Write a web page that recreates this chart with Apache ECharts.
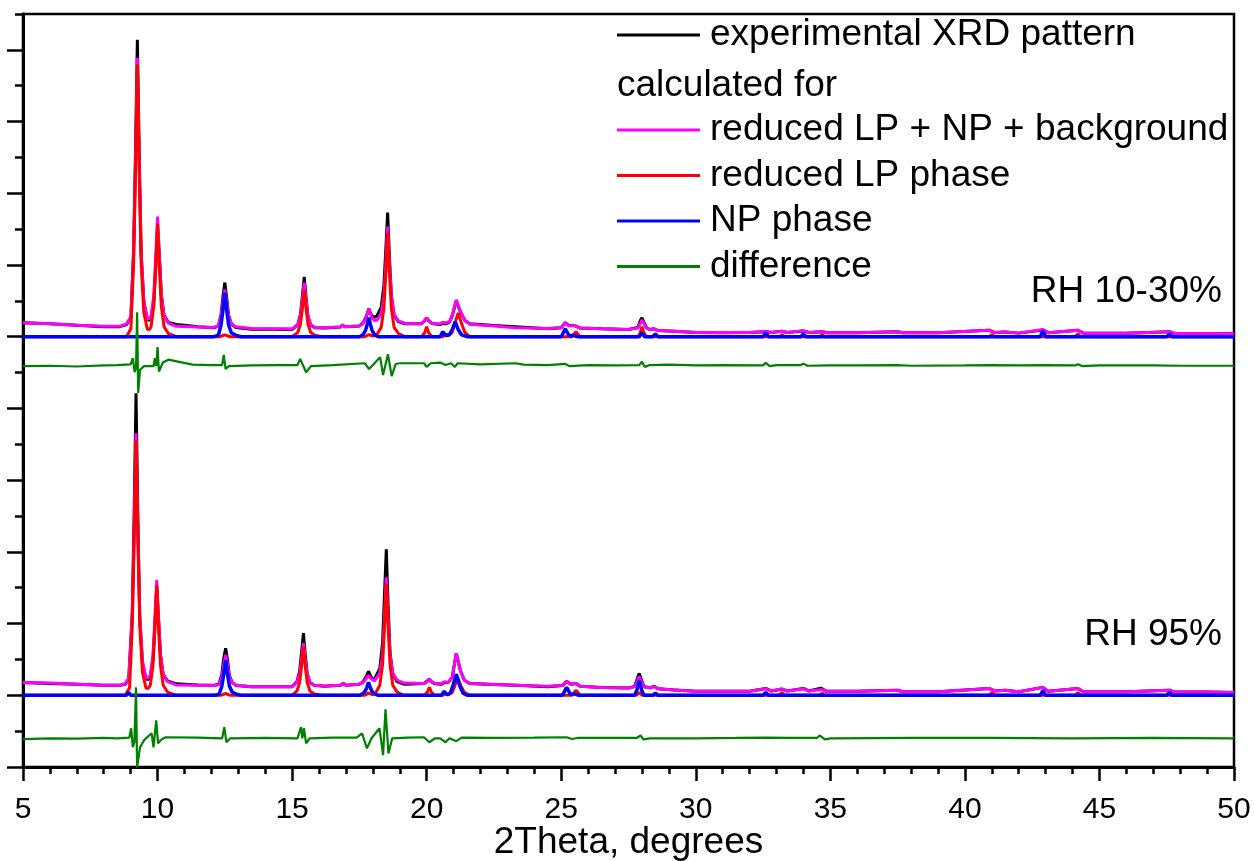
<!DOCTYPE html>
<html>
<head>
<meta charset="utf-8">
<script src="https://cdn.jsdelivr.net/npm/echarts@6/dist/echarts.min.js"></script>
<style>
  html, body { margin: 0; padding: 0; background: #fff; }
  #chart { width: 1254px; height: 861px; }
</style>
</head>
<body>
<div id="chart"></div>
<script>
// intensities are counts above each pattern's own zero line
const TOP_OFFSET = 1200
const TOP_DIFF_OFFSET = 1118
const BOTTOM_OFFSET = 200
const BOTTOM_DIFF_OFFSET = 80

const seriesNames = [
  'experimental XRD pattern',
  'reduced LP + NP + background',
  'reduced LP phase',
  'NP phase',
  'difference'
]
const panelLabels = ['RH 10-30%', 'RH 95%']

// ---- RH 10-30% ----
const topExp = [[5,39],[6,36],[7,32],[8,28],[8.6,28],[8.85,34],[9.01,55],[9.11,245],[9.18,515],[9.25,828],[9.32,505],[9.39,235],[9.49,98],[9.62,48],[9.7,46],[9.76,54],[9.86,100],[9.93,195],[10.0,304],[10.07,225],[10.14,118],[10.24,60],[10.4,40],[10.7,34],[11.0,32],[11.5,28],[12.1,25],[12.26,30],[12.36,62],[12.43,112],[12.5,151],[12.57,108],[12.64,60],[12.74,36],[12.9,26],[13.5,21],[14.3,21],[15.0,20],[15.05,25],[15.21,33],[15.31,62],[15.38,112],[15.45,167],[15.52,108],[15.59,56],[15.69,32],[15.85,25],[16.2,24],[16.8,27],[16.87,33],[16.95,28],[17.5,30],[17.63,38],[17.73,52],[17.79,64],[17.85,78],[17.91,66],[17.97,58],[18.07,54],[18.15,58],[18.31,82],[18.41,142],[18.48,240],[18.55,346],[18.62,218],[18.69,112],[18.79,60],[18.95,42],[19.2,36],[19.8,36],[19.92,44],[20.0,53],[20.08,44],[20.2,37],[20.5,34],[20.6,37],[20.7,36],[20.85,41],[20.95,58],[21.1,100],[21.25,70],[21.42,45],[21.6,36],[22.5,31],[23.3,28],[24.5,22],[25.0,25],[25.15,39],[25.3,31],[25.5,31],[25.7,24],[26.5,22],[27.5,20],[27.85,26],[27.94,45],[28.0,53],[28.06,42],[28.17,25],[28.3,20],[28.45,22],[28.6,17],[29.2,15],[30,12],[31,11],[32,12],[32.6,14],[32.8,12],[33.2,15],[33.4,12],[34.0,16],[34.2,12],[34.7,14],[34.9,11],[36,11],[37.5,14],[37.7,11],[39,11],[40.9,18],[41.1,12],[41.5,13],[42,10],[42.9,19],[43.1,11],[44.2,18],[44.4,10],[46,10],[47.6,14],[47.8,9],[49,9],[50,8]]
const topCalc = [[5,39],[6,36],[7,32],[8,29],[8.6,29],[8.85,36],[9.01,55],[9.11,235],[9.18,480],[9.25,778],[9.32,480],[9.39,235],[9.49,98],[9.62,50],[9.7,50],[9.76,58],[9.86,115],[9.93,220],[10.0,335],[10.07,220],[10.14,115],[10.24,58],[10.4,38],[10.7,29],[11.5,27],[12.1,26],[12.26,30],[12.36,58],[12.43,98],[12.5,131],[12.57,98],[12.64,58],[12.74,36],[12.9,28],[13.5,23],[15.0,22],[15.05,26],[15.21,34],[15.31,57],[15.38,100],[15.45,151],[15.52,100],[15.59,57],[15.69,34],[15.85,26],[16.2,25],[16.8,27],[16.87,33],[16.95,28],[17.5,30],[17.63,36],[17.73,50],[17.79,62],[17.85,78],[17.91,64],[17.97,52],[18.07,45],[18.15,46],[18.31,64],[18.41,112],[18.48,200],[18.55,307],[18.62,200],[18.69,112],[18.79,62],[18.95,44],[19.2,37],[19.8,36],[19.92,44],[20.0,53],[20.08,44],[20.2,37],[20.5,36],[20.6,40],[20.7,39],[20.85,42],[20.95,60],[21.1,103],[21.25,72],[21.42,45],[21.6,35],[22.5,30],[23.3,25],[24.5,23],[25.0,25],[25.15,39],[25.3,30],[25.5,31],[25.7,24],[26.5,22],[27.5,20],[27.85,24],[27.94,38],[28.0,47],[28.06,38],[28.17,24],[28.3,20],[28.45,22],[28.6,17],[29.2,15],[30,12],[31,12],[32,12],[32.6,15],[32.8,12],[33.2,15],[33.4,12],[34.0,17],[34.2,12],[34.7,14],[34.9,11],[36,11],[37.5,14],[37.7,11],[39,11],[40.9,18],[41.1,12],[41.5,13],[42,10],[42.9,20],[43.1,11],[44.2,18],[44.4,10],[46,10],[47.6,14],[47.8,9],[49,9],[50,8]]
const topLP = [[5,0],[8.85,0],[9.01,23],[9.11,205],[9.18,456],[9.25,760],[9.32,456],[9.39,205],[9.49,68],[9.62,21],[9.7,20],[9.76,28],[9.86,85],[9.93,189],[10.0,315],[10.07,189],[10.14,85],[10.24,28],[10.4,9],[10.7,0],[12.3,0],[12.5,5],[12.7,0],[15.0,0],[15.05,4],[15.21,12],[15.31,35],[15.38,78],[15.45,130],[15.52,78],[15.59,35],[15.69,12],[15.85,4],[16.1,0],[17.7,0],[17.85,6],[18.0,2],[18.15,6],[18.31,26],[18.41,78],[18.48,174],[18.55,290],[18.62,174],[18.69,78],[18.79,26],[18.95,9],[19.2,0],[19.8,0],[19.92,10],[20.0,28],[20.08,10],[20.2,0],[20.6,0],[20.7,8],[20.8,2],[20.95,12],[21.05,38],[21.17,66],[21.29,38],[21.42,12],[21.6,0],[25.4,0],[25.55,14],[25.7,0],[27.85,0],[27.94,12],[28.0,28],[28.06,12],[28.17,0],[33.1,0],[33.2,6],[33.3,0],[34.6,0],[34.7,6],[34.8,0],[40.9,0],[41.0,6],[41.1,0],[44.1,0],[44.2,8],[44.3,0],[50,0]]
const topNP = [[5,0],[12.1,0],[12.26,4],[12.36,33],[12.43,74],[12.5,123],[12.57,74],[12.64,33],[12.74,11],[12.9,4],[13.1,0],[17.5,0],[17.63,5],[17.73,18],[17.79,34],[17.85,53],[17.91,34],[17.97,18],[18.07,5],[18.2,0],[20.5,0],[20.6,14],[20.7,3],[20.85,6],[20.95,20],[21.06,42],[21.17,20],[21.3,5],[21.5,0],[25.0,0],[25.15,22],[25.3,2],[25.45,4],[25.6,0],[27.9,0],[28.0,11],[28.1,0],[28.4,0],[28.5,8],[28.6,0],[32.5,0],[32.6,11],[32.7,0],[33.9,0],[34.0,8],[34.1,0],[42.8,0],[42.9,17],[43.0,0],[47.5,0],[47.6,8],[47.7,0],[50,0]]
const topDiff = [[5,0],[6,1],[7,-1],[8,2],[8.5,3],[9.0,5],[9.08,22],[9.15,-17],[9.2,-5],[9.24,150],[9.28,-75],[9.35,-10],[9.5,0],[9.85,0],[9.9,22],[9.95,0],[10.0,53],[10.05,-15],[10.2,10],[10.4,18],[10.8,12],[11.3,4],[12.0,3],[12.4,3],[12.46,31],[12.53,-8],[12.65,0],[13.5,2],[14.5,3],[15.2,3],[15.3,20],[15.52,-17],[15.7,0],[16.5,3],[17.7,8],[17.86,-8],[18.0,3],[18.27,25],[18.38,-25],[18.56,33],[18.7,-28],[18.85,6],[19.0,8],[19.9,8],[20.0,-2],[20.15,8],[20.5,10],[20.7,3],[20.9,8],[21.05,-2],[21.15,8],[22.0,5],[23.3,8],[23.6,4],[24.5,3],[25.15,6],[25.3,0],[26,3],[27.0,2],[27.9,3],[28.0,12],[28.1,-2],[28.3,3],[29,4],[30,2],[31,3],[32.5,2],[32.6,9],[32.75,0],[33,3],[33.9,3],[34.0,7],[34.15,1],[35,2],[36,2],[37.5,3],[38,1],[40,2],[41,3],[42,2],[43,3],[44.1,2],[44.2,5],[44.35,0],[45,2],[47,2],[48,1],[50,1]]

// ---- RH 95% ----
const botExp = [[5,36],[6,33],[7,31],[8,28],[8.6,28],[8.8,31],[8.93,45],[9.06,230],[9.13,510],[9.2,842],[9.27,490],[9.34,215],[9.44,90],[9.57,46],[9.65,44],[9.73,52],[9.83,100],[9.9,195],[9.97,301],[10.04,208],[10.11,112],[10.21,58],[10.37,40],[10.7,32],[11.0,31],[11.5,29],[12.13,28],[12.29,32],[12.39,60],[12.46,104],[12.53,131],[12.6,98],[12.67,55],[12.77,36],[12.93,27],[13.5,24],[15.0,24],[15.02,28],[15.18,38],[15.28,68],[15.35,118],[15.42,173],[15.49,112],[15.56,60],[15.66,36],[15.82,28],[16.2,25],[16.8,28],[16.9,33],[17.0,28],[17.5,31],[17.62,36],[17.72,48],[17.78,57],[17.84,67],[17.9,57],[17.96,48],[18.06,45],[18.1,48],[18.26,75],[18.36,145],[18.43,275],[18.5,407],[18.57,245],[18.64,118],[18.74,60],[18.9,38],[19.15,31],[19.9,33],[20.02,40],[20.1,45],[20.18,38],[20.3,32],[20.55,31],[20.65,35],[20.8,36],[20.95,50],[21.1,117],[21.25,70],[21.4,42],[21.6,33],[22.5,30],[23.3,28],[24.5,24],[25.05,27],[25.2,39],[25.35,31],[25.55,33],[25.7,25],[26.5,22],[27.5,20],[27.72,25],[27.8,40],[27.85,52],[27.9,61],[27.95,50],[28.0,38],[28.08,24],[28.3,21],[28.45,25],[28.6,18],[29.2,15],[30,11],[31,11],[32,11],[32.6,19],[32.8,12],[33.2,17],[33.4,12],[34.0,19],[34.2,12],[34.65,20],[34.85,11],[36,11],[37.5,14],[37.7,10],[39,10],[40.9,19],[41.1,12],[41.5,14],[42,10],[42.9,22],[43.1,11],[44.2,19],[44.4,10],[46,10],[47.6,14],[47.8,9],[49,9],[50,8]]
const botCalc = [[5,36],[6,34],[7,31],[8,28],[8.6,28],[8.8,32],[8.93,48],[9.06,222],[9.13,455],[9.2,731],[9.27,455],[9.34,222],[9.44,94],[9.57,49],[9.65,48],[9.73,56],[9.83,112],[9.9,212],[9.97,321],[10.04,212],[10.11,112],[10.21,57],[10.37,38],[10.7,29],[11.5,28],[12.13,27],[12.29,30],[12.39,52],[12.46,85],[12.53,112],[12.6,85],[12.67,52],[12.77,35],[12.93,28],[13.5,24],[15.0,24],[15.02,28],[15.18,36],[15.28,60],[15.35,100],[15.42,145],[15.49,100],[15.56,60],[15.66,36],[15.82,28],[16.2,26],[16.8,28],[16.9,34],[17.0,28],[17.5,31],[17.62,35],[17.72,43],[17.78,48],[17.84,56],[17.9,48],[17.96,43],[18.06,40],[18.1,42],[18.26,62],[18.36,112],[18.43,215],[18.5,329],[18.57,215],[18.64,112],[18.74,62],[18.9,42],[19.15,34],[19.9,33],[20.02,38],[20.1,45],[20.18,38],[20.3,33],[20.55,33],[20.65,38],[20.8,36],[20.95,50],[21.1,117],[21.25,70],[21.4,42],[21.6,33],[22.5,30],[23.3,28],[24.5,25],[25.05,27],[25.2,39],[25.35,31],[25.55,33],[25.7,25],[26.5,22],[27.5,20],[27.72,24],[27.8,34],[27.85,44],[27.9,53],[27.95,44],[28.0,34],[28.08,24],[28.3,21],[28.45,24],[28.6,18],[29.2,15],[30,11],[31,11],[32,11],[32.6,18],[32.8,12],[33.2,18],[33.4,12],[34.0,18],[34.2,12],[34.7,16],[34.9,11],[36,11],[37.5,14],[37.7,10],[39,10],[40.9,19],[41.1,12],[41.5,14],[42,10],[42.9,22],[43.1,11],[44.2,19],[44.4,10],[46,10],[47.6,14],[47.8,9],[49,9],[50,8]]
const botLP = [[5,0],[8.8,0],[8.96,21],[9.06,192],[9.13,427],[9.2,711],[9.27,427],[9.34,192],[9.44,64],[9.57,20],[9.65,19],[9.73,28],[9.83,83],[9.9,184],[9.97,307],[10.04,184],[10.11,83],[10.21,28],[10.37,9],[10.7,0],[12.35,0],[12.53,5],[12.7,0],[15.0,0],[15.02,4],[15.18,12],[15.28,36],[15.35,80],[15.42,134],[15.49,80],[15.56,36],[15.66,12],[15.82,4],[16.1,0],[17.7,0],[17.84,6],[17.98,2],[18.1,6],[18.26,28],[18.36,84],[18.43,187],[18.5,312],[18.57,187],[18.64,84],[18.74,28],[18.9,9],[19.15,0],[19.9,0],[20.02,8],[20.1,22],[20.18,8],[20.3,0],[20.6,0],[20.7,5],[20.8,1],[20.95,8],[21.05,27],[21.15,50],[21.27,27],[21.4,8],[21.6,0],[25.4,0],[25.55,14],[25.7,0],[27.8,0],[27.9,8],[28.0,0],[33.1,0],[33.2,8],[33.3,0],[34.6,0],[34.7,6],[34.8,0],[40.9,0],[41.0,8],[41.1,0],[44.1,0],[44.2,8],[44.3,0],[50,0]]
const botNP = [[5,0],[8.85,0],[8.93,8],[9.0,0],[12.13,0],[12.29,3],[12.39,26],[12.46,59],[12.53,98],[12.6,59],[12.67,26],[12.77,9],[12.93,3],[13.1,0],[17.5,0],[17.62,4],[17.72,12],[17.78,23],[17.84,36],[17.9,23],[17.96,12],[18.06,4],[18.2,0],[20.55,0],[20.65,11],[20.75,2],[20.88,6],[20.98,28],[21.1,59],[21.22,28],[21.35,6],[21.5,0],[25.05,0],[25.2,22],[25.35,2],[25.5,4],[25.65,0],[27.72,0],[27.8,12],[27.85,25],[27.9,42],[27.95,25],[28.0,12],[28.08,0],[28.4,0],[28.5,6],[28.6,0],[32.5,0],[32.6,8],[32.7,0],[42.8,0],[42.9,14],[43.0,0],[47.5,0],[47.6,8],[47.7,0],[50,0]]
const botDiff = [[5,-2],[6,0],[7,-1],[8,1],[8.5,0],[8.95,2],[9.02,28],[9.08,-25],[9.14,-10],[9.2,142],[9.24,-81],[9.35,-25],[9.5,-5],[9.78,14],[9.85,-25],[9.95,50],[10.02,-14],[10.15,-3],[10.3,3],[11.5,2],[12.4,0],[12.48,31],[12.56,-11],[12.7,0],[14,1],[15.2,0],[15.33,31],[15.38,0],[15.44,28],[15.52,-14],[15.65,0],[16.5,2],[17.4,2],[17.6,14],[17.78,-28],[17.95,0],[18.25,28],[18.38,-47],[18.47,81],[18.58,-42],[18.72,0],[19.3,2],[19.9,3],[20.1,-11],[20.3,0],[20.5,0],[20.7,-11],[20.85,0],[21.1,-8],[21.3,2],[22.5,1],[24,2],[25.2,3],[25.4,-2],[25.6,1],[27.8,1],[27.95,8],[28.05,-3],[28.3,0],[30,0],[31.5,1],[32.6,2],[33.5,1],[34.5,1],[34.6,8],[34.8,-3],[35,0],[38,1],[41,1],[44,0],[47,1],[50,0]]

const FONT = 'Liberation Sans, Arial, sans-serif'
const colors = ['#000000', '#ff00ff', '#ff0000', '#0000ff', '#008000']
const widths = [3, 3, 3, 3.5, 2.2]

function shift(arr, offset) {
  return arr.map(p => [p[0], p[1] + offset])
}

function makeSeries(idx, arr, offset) {
  return {
    name: seriesNames[idx],
    type: 'line',
    data: shift(arr, offset),
    showSymbol: false,
    symbol: 'none',
    smooth: false,
    animation: false,
    lineStyle: { color: colors[idx], width: widths[idx] },
    itemStyle: { color: colors[idx] }
  }
}

const series = [
  makeSeries(0, topExp, TOP_OFFSET),
  makeSeries(1, topCalc, TOP_OFFSET),
  makeSeries(2, topLP, TOP_OFFSET),
  makeSeries(3, topNP, TOP_OFFSET),
  makeSeries(4, topDiff, TOP_DIFF_OFFSET),
  makeSeries(0, botExp, BOTTOM_OFFSET),
  makeSeries(1, botCalc, BOTTOM_OFFSET),
  makeSeries(2, botLP, BOTTOM_OFFSET),
  makeSeries(3, botNP, BOTTOM_OFFSET),
  makeSeries(4, botDiff, BOTTOM_DIFF_OFFSET)
]

const majorY = []
for (let v = 0; v <= 2000; v += 200) majorY.push(v)

const legendText = { color: '#000', fontSize: 37, fontFamily: FONT, lineHeight: 38, padding: [4, 0, 0, 5] }

const chart = echarts.init(document.getElementById('chart'), null, { renderer: 'canvas' })
chart.setOption({
  backgroundColor: '#fff',
  animation: false,
  grid: {
    left: 23, right: 20, top: 14, bottom: 94,
    containLabel: false,
    outerBoundsMode: 'none',
    show: true, borderColor: '#000', borderWidth: 2.5, backgroundColor: 'transparent'
  },
  legend: [
    {
      data: [seriesNames[0]],
      left: 617, top: 14, padding: 0,
      icon: 'rect', itemWidth: 83, itemHeight: 3,
      textStyle: legendText,
      selectedMode: false
    },
    {
      data: seriesNames.slice(1),
      orient: 'vertical',
      left: 617, top: 109, padding: 0, itemGap: 3.5,
      icon: 'rect', itemWidth: 83, itemHeight: 3,
      textStyle: legendText,
      selectedMode: false
    }
  ],
  xAxis: {
    type: 'value',
    min: 5, max: 50, interval: 5,
    name: '2Theta, degrees',
    nameLocation: 'middle',
    nameGap: 57,
    nameMoveOverlap: false,
    nameTextStyle: { color: '#000', fontSize: 37, fontFamily: FONT },
    axisLine: { show: true, onZero: false, lineStyle: { color: '#000', width: 3 } },
    axisTick: { show: true, inside: false, length: 14, lineStyle: { color: '#000', width: 2.5 } },
    minorTick: { show: true, splitNumber: 5, length: 7, lineStyle: { color: '#000', width: 2.5 } },
    axisLabel: { show: true, color: '#000', fontSize: 30, fontFamily: FONT, margin: 28 },
    splitLine: { show: false },
    minorSplitLine: { show: false }
  },
  yAxis: [
    {
      type: 'value',
      min: 0, max: 2100, interval: 200,
      axisLine: { show: true, onZero: false, lineStyle: { color: '#000', width: 3 } },
      axisTick: { show: true, inside: false, length: 16, customValues: majorY, lineStyle: { color: '#000', width: 2.5 } },
      axisLabel: { show: false },
      splitLine: { show: false }
    },
    {
      type: 'value',
      position: 'left',
      min: 0, max: 2100, interval: 100,
      axisLine: { show: false },
      axisTick: { show: true, inside: false, length: 8, lineStyle: { color: '#000', width: 2.5 } },
      axisLabel: { show: false },
      splitLine: { show: false }
    }
  ],
  graphic: [
    {
      type: 'text', right: 1254 - 1222, top: 273,
      style: { text: panelLabels[0], fill: '#000', font: '37px ' + FONT }
    },
    {
      type: 'text', right: 1254 - 1222, top: 616,
      style: { text: panelLabels[1], fill: '#000', font: '37px ' + FONT }
    },
    {
      type: 'text', left: 617, top: 67,
      style: { text: 'calculated for', fill: '#000', font: '37px ' + FONT }
    }
  ],
  series: series
})
</script>
</body>
</html>
